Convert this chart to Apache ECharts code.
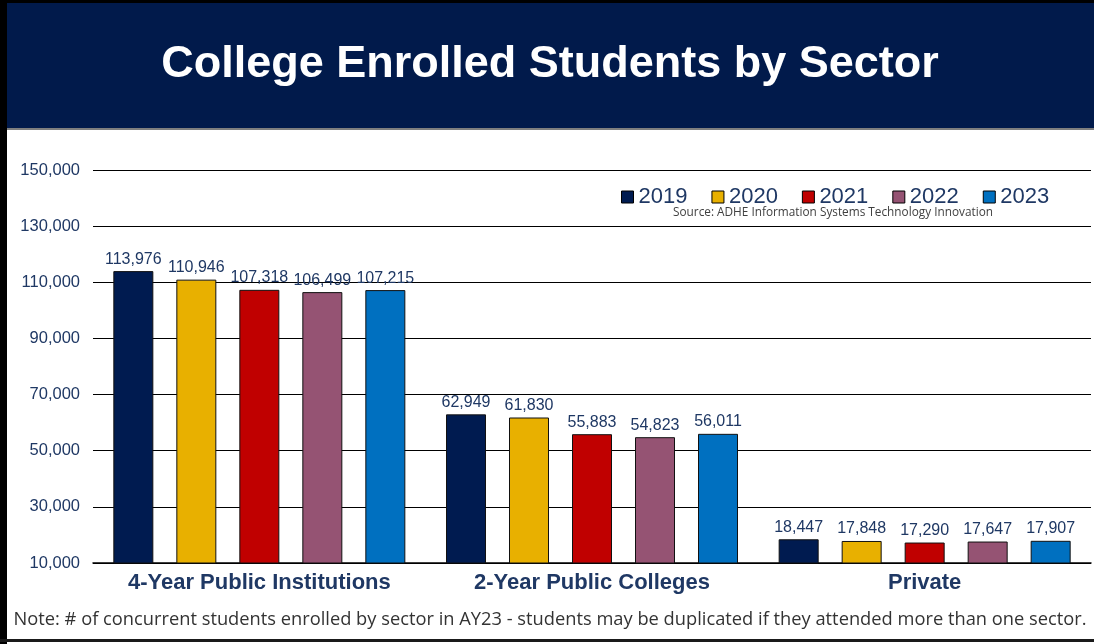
<!DOCTYPE html>
<html>
<head>
<meta charset="utf-8">
<script src="https://cdn.jsdelivr.net/npm/echarts@6/dist/echarts.min.js"></script>
<style>
html,body{margin:0;padding:0;background:#fff;}
#chart{width:1094px;height:644px;}
</style>
</head>
<body>
<div id="chart"></div>
<script>
const titleText = 'College Enrolled Students by Sector';
const categories = ['4-Year Public Institutions', '2-Year Public Colleges', 'Private'];
const years = ['2019', '2020', '2021', '2022', '2023'];
const values2019 = [113976, 62949, 18447];
const values2020 = [110946, 61830, 17848];
const values2021 = [107318, 55883, 17290];
const values2022 = [106499, 54823, 17647];
const values2023 = [107215, 56011, 17907];
const yTicks = [10000, 30000, 50000, 70000, 90000, 110000, 130000, 150000];
const sourceText = 'Source: ADHE Information Systems Technology Innovation';
const noteText = 'Note: # of concurrent students enrolled by sector in AY23 - students may be duplicated if they attended more than one sector.';

const seriesValues = [values2019, values2020, values2021, values2022, values2023];
const colors = ['#001b50', '#e8b000', '#c00000', '#955373', '#0070c0'];
const navyText = '#1f3864';
const fmt = v => Number(v).toLocaleString('en-US');

const chart = echarts.init(document.getElementById('chart'));
chart.setOption({
  animation: false,
  backgroundColor: '#fff',
  textStyle: { fontFamily: 'Liberation Sans, Arial, sans-serif' },
  grid: { left: 93, right: 3, top: 170, bottom: 81, containLabel: false },
  legend: {
    data: years,
    left: 616,
    top: 181,
    icon: 'rect',
    itemWidth: 12,
    itemHeight: 12,
    itemGap: 24,
    textStyle: { fontSize: 22, color: navyText, fontFamily: 'Liberation Sans, Arial, sans-serif', padding: [0, 0, 0, 0] },
    itemStyle: { borderColor: '#000', borderWidth: 1 }
  },
  xAxis: {
    type: 'category',
    data: categories,
    axisLine: { lineStyle: { color: '#000', width: 1.5 } },
    axisTick: { show: false },
    axisLabel: { interval: 0, hideOverlap: false, fontSize: 22, fontWeight: 'bold', color: navyText, margin: 9 }
  },
  yAxis: {
    type: 'value',
    min: 10000,
    max: 150000,
    axisLine: { show: false },
    axisTick: { show: false, customValues: yTicks },
    axisLabel: { customValues: yTicks, fontSize: 16.5, color: navyText, margin: 13, formatter: v => fmt(v) },
    splitLine: { show: true, lineStyle: { color: '#000', width: 1 } }
  },
  series: years.map((y, i) => ({
    name: y,
    type: 'bar',
    data: seriesValues[i],
    barWidth: 40,
    barGap: '57.5%',
    itemStyle: { color: colors[i], borderColor: '#111', borderWidth: 1 },
    label: { show: true, position: 'top', distance: 4, fontSize: 16, color: navyText, formatter: p => fmt(p.value) }
  })),
  graphic: [
    { type: 'rect', shape: { x: 0, y: 0, width: 1094, height: 129 }, style: { fill: '#011a4b' }, z: -1 },
    { type: 'rect', shape: { x: 0, y: 128, width: 1094, height: 2 }, style: { fill: '#7f7f7f' }, z: 1 },
    { type: 'rect', shape: { x: 0, y: 0, width: 1094, height: 3 }, style: { fill: '#000' }, z: 2 },
    { type: 'rect', shape: { x: 0, y: 0, width: 7, height: 644 }, style: { fill: '#000' }, z: 2 },
    { type: 'rect', shape: { x: 0, y: 639, width: 1094, height: 3 }, style: { fill: '#1a1a1a' }, z: 2 },
    { type: 'text', x: 550, y: 65, style: { text: titleText, fill: '#fff', font: 'bold 45px "Liberation Sans", Arial, sans-serif', textAlign: 'center', textVerticalAlign: 'middle' }, z: 3 },
    { type: 'text', x: 833, y: 213, style: { text: sourceText, fill: '#404040', font: '11.8px "Open Sans", sans-serif', textAlign: 'center', textVerticalAlign: 'middle' }, z: 3 },
    { type: 'text', x: 550, y: 620, style: { text: noteText, fill: '#333', font: '18.3px "Open Sans", sans-serif', textAlign: 'center', textVerticalAlign: 'middle' }, z: 3 }
  ]
});
</script>
</body>
</html>
